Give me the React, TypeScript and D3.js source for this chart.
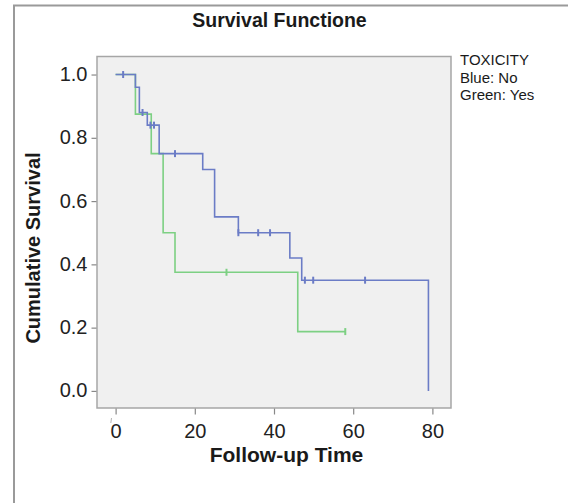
import { useEffect, useRef } from "react";
import * as d3 from "d3";

// Kaplan-Meier steps
const blueTimes = [0, 5, 6, 8, 11, 22, 25, 31, 44, 47, 79];
const blueSurv = [1.0, 0.96, 0.88, 0.84, 0.75, 0.7, 0.55, 0.5, 0.42, 0.35, 0.0];
const blueCensored = [1.9, 6.8, 8.8, 9.7, 15, 31, 36, 39, 47.8, 49.9, 63];

const greenTimes = [0, 5, 9, 12, 15, 46, 58];
const greenSurv = [1.0, 0.875, 0.75, 0.5, 0.375, 0.1875, 0.1875];
const greenCensored = [28, 58];

const xTicks = [0, 20, 40, 60, 80];
const yTicks = [0, 0.2, 0.4, 0.6, 0.8, 1.0];
const legendLines = ["TOXICITY", "Blue: No", "Green: Yes"];

const FONT = "'Liberation Sans', Arial, Helvetica, sans-serif";

export default function App() {
  const ref = useRef<SVGSVGElement>(null);

  useEffect(() => {
    const svg = d3.select(ref.current);
    svg.selectAll("*").remove();

    const left = 97, right = 451, top = 56.5, bottom = 408;

    const x = d3.scaleLinear().domain([-4.7, 84.7]).range([left, right]);
    const y = d3.scaleLinear().domain([-0.054, 1.057]).range([bottom, top]);

    // outer frame (left and top edges only visible)
    svg.append("path")
      .attr("d", "M14,503 L14,5.5 L568,5.5")
      .attr("fill", "none")
      .attr("stroke", "#9a9a9a")
      .attr("stroke-width", 2);

    // title
    svg.append("text")
      .text("Survival Functione")
      .attr("x", 279.5)
      .attr("y", 26.7)
      .attr("text-anchor", "middle")
      .attr("font-family", FONT)
      .attr("font-weight", "bold")
      .attr("font-size", 19.5)
      .attr("fill", "#1a1a1a");

    // plot area
    svg.append("rect")
      .attr("x", left)
      .attr("y", top)
      .attr("width", right - left)
      .attr("height", bottom - top)
      .attr("fill", "#f0f0f0")
      .attr("stroke", "#a6a6a6")
      .attr("stroke-width", 1.5);

    // y axis
    const yAxis = d3.axisLeft(y).tickValues(yTicks).tickSize(5).tickPadding(4)
      .tickFormat(d3.format(".1f"));
    const gy = svg.append("g").attr("transform", `translate(${left - 0.5},0)`).call(yAxis);
    gy.select(".domain").remove();
    gy.selectAll(".tick line").attr("stroke", "#888").attr("stroke-width", 1.2);
    gy.selectAll(".tick text")
      .attr("font-family", FONT)
      .attr("font-size", 20)
      .attr("fill", "#222")
      .attr("dy", "0.3em");

    // x axis
    const xAxis = d3.axisBottom(x).tickValues(xTicks).tickSize(6).tickPadding(4)
      .tickFormat(d3.format("d"));
    const gx = svg.append("g").attr("transform", `translate(0,${bottom + 0.5})`).call(xAxis);
    gx.select(".domain").remove();
    gx.selectAll(".tick line").attr("stroke", "#888").attr("stroke-width", 1.2);
    gx.selectAll(".tick text")
      .attr("font-family", FONT)
      .attr("font-size", 20)
      .attr("fill", "#222")
      .attr("y", 29)
      .attr("dy", 0);

    // small stray mark near the zero label
    svg.append("line")
      .attr("x1", 111.5).attr("x2", 110.8)
      .attr("y1", 418).attr("y2", 423)
      .attr("stroke", "#b5b5b5")
      .attr("stroke-width", 1);

    // axis titles
    svg.append("text")
      .text("Follow-up Time")
      .attr("x", 286.5)
      .attr("y", 461.5)
      .attr("text-anchor", "middle")
      .attr("font-family", FONT)
      .attr("font-weight", "bold")
      .attr("font-size", 21)
      .attr("fill", "#1a1a1a");

    svg.append("text")
      .text("Cumulative Survival")
      .attr("transform", `translate(40,248) rotate(-90)`)
      .attr("text-anchor", "middle")
      .attr("font-family", FONT)
      .attr("font-weight", "bold")
      .attr("font-size", 20)
      .attr("fill", "#1a1a1a");

    // legend text
    svg.append("g").selectAll("text")
      .data(legendLines)
      .join("text")
      .text(d => d)
      .attr("x", 460)
      .attr("y", (_, i) => 65 + i * 17.5)
      .attr("font-family", FONT)
      .attr("font-size", 15)
      .attr("fill", "#1a1a1a");

    const line = d3.line<[number, number]>()
      .x(d => x(d[0]))
      .y(d => y(d[1]))
      .curve(d3.curveStepAfter);

    const stepAt = (times: number[], surv: number[], t: number) => {
      let s = surv[0];
      for (let i = 0; i < times.length; i++) if (times[i] <= t) s = surv[i];
      return s;
    };

    const series = [
      { times: blueTimes, surv: blueSurv, cens: blueCensored, color: "#6b7cc6" },
      { times: greenTimes, surv: greenSurv, cens: greenCensored, color: "#7dd083" },
    ];

    // draw green first so blue sits on top
    [...series].reverse().forEach(s => {
      const pts = s.times.map((t, i) => [t, s.surv[i]] as [number, number]);
      svg.append("path")
        .attr("d", line(pts))
        .attr("fill", "none")
        .attr("stroke", s.color)
        .attr("stroke-width", 1.6);

      svg.append("g").selectAll("line")
        .data(s.cens)
        .join("line")
        .attr("x1", d => x(d))
        .attr("x2", d => x(d))
        .attr("y1", d => y(stepAt(s.times, s.surv, d)) - 3.5)
        .attr("y2", d => y(stepAt(s.times, s.surv, d)) + 3.5)
        .attr("stroke", s.color)
        .attr("stroke-width", 2);
    });
  }, []);

  return (
    <svg
      ref={ref}
      width={568}
      height={503}
      style={{ position: "absolute", left: 0, top: 0, background: "#fff" }}
    />
  );
}
